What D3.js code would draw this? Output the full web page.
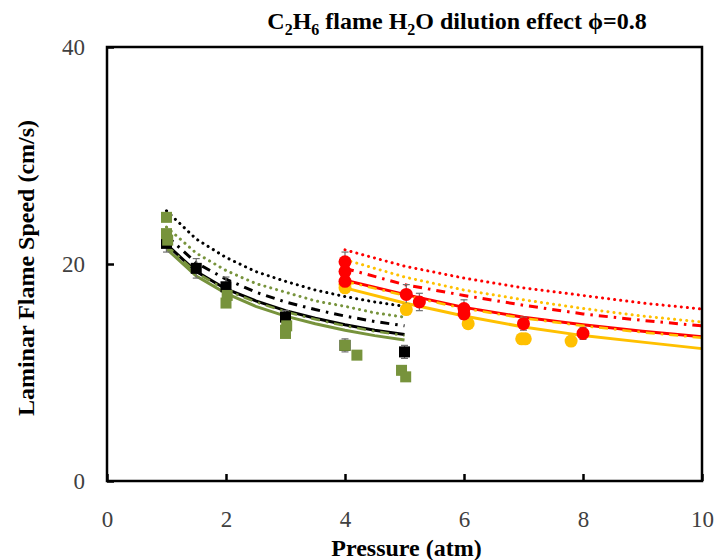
<!DOCTYPE html>
<html>
<head>
<meta charset="utf-8">
<script src="https://cdn.jsdelivr.net/npm/d3@7"></script>
<style>
  body { margin: 0; background: #fff; }
  svg text { font-family: "Liberation Serif", "Times New Roman", "DejaVu Serif", serif; }
</style>
</head>
<body>
<div id="chart"></div>
<script>
// ---- data ----
// model curves, low pressure group (black / green)
const pLow = [1, 1.5, 2, 2.5, 3, 3.5, 4, 4.5, 5];
const blackDotted  = [24.9, 22.3, 20.6, 19.3, 18.4, 17.6, 17.0, 16.5, 16.1];
const greenDotted  = [23.4, 21.0, 19.4, 18.2, 17.4, 16.6, 16.1, 15.5, 15.1];
const blackDashDot = [22.6, 20.1, 18.6, 17.4, 16.5, 15.8, 15.2, 14.7, 14.3];
const blackSolid   = [21.8, 19.3, 17.7, 16.6, 15.7, 15.0, 14.4, 13.9, 13.5];
const greenDashDot = [21.7, 19.2, 17.6, 16.5, 15.6, 14.9, 14.3, 13.8, 13.4];
const greenSolid   = [21.4, 18.9, 17.3, 16.1, 15.2, 14.5, 13.9, 13.4, 13.0];

// model curves, high pressure group (red / yellow)
const pHigh = [4, 5, 6, 7, 8, 9, 10];
const redDotted     = [21.3, 19.8, 18.7, 17.8, 17.1, 16.4, 15.85];
const yellowDotted  = [20.4, 18.8, 17.6, 16.7, 15.9, 15.2, 14.65];
const redDashDot    = [19.6, 18.1, 17.1, 16.2, 15.4, 14.8, 14.3];
const redSolid      = [18.5, 17.2, 16.0, 15.1, 14.4, 13.8, 13.3];
const yellowDashDot = [18.4, 17.1, 15.9, 15.0, 14.3, 13.7, 13.2];
const yellowSolid   = [17.8, 16.4, 15.2, 14.2, 13.4, 12.8, 12.2];

// measurements
const blackP   = [1, 1.5, 2, 3, 4, 5];
const blackS   = [21.9, 19.6, 17.9, 15.1, 12.5, 11.9];
const blackErr = [0.8, 0.9, 0.9, 0.6, 0.6, 0.6];

const greenP = [1, 1, 1.02, 2, 2.02, 3, 3, 3.02, 4, 4.2, 4.95, 5.02];
const greenS = [24.3, 22.8, 22.2, 16.4, 17.1, 13.6, 13.9, 14.3, 12.5, 11.6, 10.2, 9.6];

const redP   = [4, 4, 4, 5.03, 5.25, 6, 6, 7, 8];
const redS   = [20.2, 19.3, 18.4, 17.2, 16.5, 15.9, 15.4, 14.5, 13.6];
const redErr = [0.9, 0.5, 0.5, 0.9, 0.8, 0.8, 0.5, 0.6, 0.55];

const yellowP = [4, 4, 5.03, 6.07, 6.97, 7.03, 7.8];
const yellowS = [17.8, 18.1, 15.8, 14.5, 13.1, 13.1, 12.9];

const xTicks = [0, 2, 4, 6, 8, 10];
const yTicks = [0, 20, 40];

// ---- layout ----
const width = 718, height = 560;
const margin = {top: 47, right: 16, bottom: 79, left: 107};
const SERIF = "'Liberation Serif', 'Times New Roman', 'DejaVu Serif', serif";

const GREEN = "#77933C", RED = "#FF0000", YELLOW = "#FFC000";

const svg = d3.select("#chart").append("svg")
    .attr("width", width)
    .attr("height", height)
    .attr("font-family", SERIF);

const x = d3.scaleLinear().domain([0, 10]).range([margin.left, width - margin.right]);
const y = d3.scaleLinear().domain([0, 40]).range([height - margin.bottom, margin.top]);

const line = d3.line().x(d => x(d[0])).y(d => y(d[1]));

function curve(ps, vals, color, dash, w) {
  svg.append("path")
    .datum(ps.map((p, i) => [p, vals[i]]))
    .attr("d", line)
    .attr("fill", "none")
    .attr("stroke", color)
    .attr("stroke-width", w || 3)
    .attr("stroke-linecap", dash === "dot" ? "round" : "butt")
    .attr("stroke-dasharray", dash === "dot" ? "0.1,6" : dash === "dashdot" ? "9,6,2.5,6" : null);
}

// curves
curve(pLow, blackDotted, "#000", "dot");
curve(pLow, greenDotted, GREEN, "dot");
curve(pLow, blackDashDot, "#000", "dashdot");
curve(pLow, greenSolid, GREEN, null);
curve(pLow, blackSolid, "#000", null);
curve(pLow, greenDashDot, GREEN, "dashdot", 2.5);

curve(pHigh, redDotted, RED, "dot");
curve(pHigh, yellowDotted, YELLOW, "dot");
curve(pHigh, redDashDot, RED, "dashdot");
curve(pHigh, yellowSolid, YELLOW, null);
curve(pHigh, redSolid, RED, null);
curve(pHigh, yellowDashDot, YELLOW, "dashdot", 2.5);

// error bars
function errorBars(ps, vals, errs) {
  const g = svg.append("g").attr("stroke", "#6f6f6f").attr("stroke-width", 1.2);
  ps.forEach((p, i) => {
    const cx = x(p), y0 = y(vals[i] - errs[i]), y1 = y(vals[i] + errs[i]);
    g.append("line").attr("x1", cx).attr("x2", cx).attr("y1", y0).attr("y2", y1);
    g.append("line").attr("x1", cx - 3.5).attr("x2", cx + 3.5).attr("y1", y0).attr("y2", y0);
    g.append("line").attr("x1", cx - 3.5).attr("x2", cx + 3.5).attr("y1", y1).attr("y2", y1);
  });
}
errorBars(blackP, blackS, blackErr);
errorBars(redP, redS, redErr);

// markers
const sq = 11;
svg.append("g").selectAll("rect")
  .data(blackP.map((p, i) => [p, blackS[i]]))
  .join("rect")
    .attr("x", d => x(d[0]) - sq / 2)
    .attr("y", d => y(d[1]) - sq / 2)
    .attr("width", sq).attr("height", sq)
    .attr("fill", "#000");

svg.append("g").selectAll("rect")
  .data(greenP.map((p, i) => [p, greenS[i]]))
  .join("rect")
    .attr("x", d => x(d[0]) - sq / 2)
    .attr("y", d => y(d[1]) - sq / 2)
    .attr("width", sq).attr("height", sq)
    .attr("fill", GREEN);

svg.append("g").selectAll("circle")
  .data(yellowP.map((p, i) => [p, yellowS[i]]))
  .join("circle")
    .attr("cx", d => x(d[0]))
    .attr("cy", d => y(d[1]))
    .attr("r", 6.5)
    .attr("fill", YELLOW);

svg.append("g").selectAll("circle")
  .data(redP.map((p, i) => [p, redS[i]]))
  .join("circle")
    .attr("cx", d => x(d[0]))
    .attr("cy", d => y(d[1]))
    .attr("r", 6.5)
    .attr("fill", RED);

// frame
svg.append("rect")
  .attr("x", x(0)).attr("y", y(40))
  .attr("width", x(10) - x(0)).attr("height", y(0) - y(40))
  .attr("fill", "none").attr("stroke", "#000").attr("stroke-width", 2.5);

// axes (ticks pointing inward)
const xAxis = svg.append("g")
  .attr("transform", "translate(0," + y(0) + ")")
  .call(d3.axisBottom(x).tickValues(xTicks).tickSize(-7).tickPadding(30).tickFormat(d3.format("d")));
const yAxis = svg.append("g")
  .attr("transform", "translate(" + x(0) + ",0)")
  .call(d3.axisLeft(y).tickValues(yTicks).tickSize(-7).tickPadding(22).tickFormat(d3.format("d")));

[xAxis, yAxis].forEach(a => {
  a.attr("font-family", SERIF).attr("font-size", 23);
  a.select(".domain").remove();
  a.selectAll(".tick line").attr("stroke", "#000").attr("stroke-width", 2.5);
  a.selectAll(".tick text").attr("fill", "#404040");
});

// axis titles
svg.append("text")
  .attr("x", (x(0) + x(10)) / 2 + 2)
  .attr("y", 556)
  .attr("text-anchor", "middle")
  .attr("font-size", 24).attr("font-weight", "bold")
  .text("Pressure (atm)");

svg.append("text")
  .attr("transform", "translate(34," + 268 + ") rotate(-90)")
  .attr("text-anchor", "middle")
  .attr("font-size", 24).attr("font-weight", "bold")
  .text("Laminar Flame Speed (cm/s)");

// title with subscripts
const title = svg.append("text")
  .attr("x", 457).attr("y", 29)
  .attr("text-anchor", "middle")
  .attr("font-size", 24).attr("font-weight", "bold");
const parts = [["C"], ["2", 1], ["H"], ["6", 1], [" flame H"], ["2", 1], ["O dilution effect \u03D5=0.8"]];
parts.forEach((p, i) => {
  const t = title.append("tspan").text(p[0]);
  if (p[1]) t.attr("dy", 6).attr("font-size", 16);
  else t.attr("dy", i > 0 && parts[i - 1][1] ? -6 : 0);
});
</script>
</body>
</html>
